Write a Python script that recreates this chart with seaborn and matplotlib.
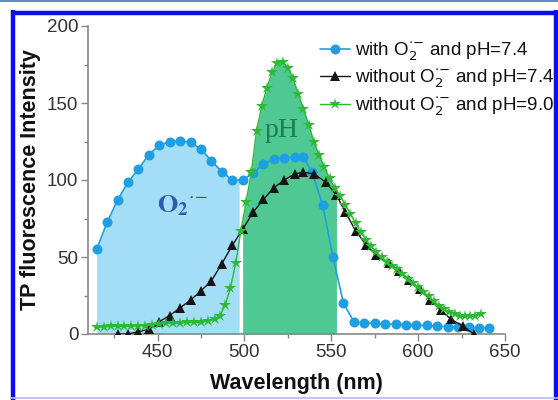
import numpy as np
import matplotlib.pyplot as plt
import seaborn as sns
from matplotlib.lines import Line2D
from matplotlib.ticker import MultipleLocator

# with O2- and pH 7.4 (circles)
blue_wl = [415, 421, 427, 433, 439, 445, 451, 457, 463, 469, 475, 481, 487, 493,
           499, 505, 511, 517, 523, 529, 534, 539, 545, 551, 557, 563, 569, 575,
           581, 587, 593, 599, 605, 611, 617, 623, 629, 635, 641]
blue_val = [55, 72.5, 87, 98.5, 107, 116.5, 122.5, 125, 125.5, 124.5, 120, 112.5, 105.5, 100,
            100, 104.5, 110.5, 113.5, 114.5, 114.7, 114.7, 105, 84, 50, 20, 8, 7.2, 6.9,
            6.3, 6.3, 6, 5.6, 5.6, 5, 4.8, 4.5, 4.3, 4, 3.7]

# without O2- and pH 7.4 (triangles)
black_wl = [427, 433, 439, 445, 451, 457, 463, 469, 475, 481, 487, 493, 499, 505,
            511, 517, 523, 529, 534, 540, 547, 553, 558, 564, 570, 576, 583, 589,
            595, 601, 607, 613, 619, 626, 632]
black_val = [0, 0, 1.5, 3, 8, 12, 17, 22, 28, 34.5, 45.5, 57.5, 68, 79,
             87.5, 95, 100, 104, 105, 104, 98.5, 90, 79.5, 67, 58, 51, 46, 41,
             35, 29, 22, 15.5, 9.5, 5, 0]

# without O2- and pH 9.0 (stars)
green_wl = [415, 419, 423, 427, 431, 435, 439, 443, 447, 451, 455, 459, 463, 467,
            471, 475, 479, 483, 486, 489, 492, 495, 498, 501, 504, 507, 510, 513,
            516, 519, 522, 525, 528, 531, 534, 537, 540, 543, 546, 549, 552, 555,
            558, 561, 564, 567, 570, 573, 576, 579, 582, 585, 588, 591, 594, 597,
            600, 603, 606, 609, 612, 615, 618, 621, 624, 627, 630, 633, 636]
green_val = [4.5, 4.5, 5, 5, 5, 5, 5.5, 5.5, 6, 6.5, 7, 7, 7, 7.5,
             7.5, 7.5, 8.5, 9.5, 12, 19, 30, 46, 67, 86, 105, 132, 148, 160,
             170, 176, 176.5, 173, 166, 156, 146, 136, 125, 116, 108.5, 101, 95, 89.5,
             84, 78, 72, 66, 61, 57, 53, 50, 47, 44, 42, 39, 36, 33,
             30.5, 27.5, 24.5, 21.5, 18.5, 16, 14, 13, 12, 11.5, 11.5, 12, 13]

labels = [r"with O$_2^{\cdot{-}}$ and pH=7.4",
          r"without O$_2^{\cdot{-}}$ and pH=7.4",
          r"without O$_2^{\cdot{-}}$ and pH=9.0"]

# shaded bands
o2_band = (415, 497)
ph_band = (499, 553)

sns.set_style("ticks")
plt.rcParams['font.family'] = ['Liberation Sans', 'DejaVu Sans']

fig = plt.figure(figsize=(5.58, 4.0), dpi=100)
ax = fig.add_axes([88 / 558, 66 / 400, 417 / 558, 308 / 400])

bw = np.array(blue_wl, dtype=float)
bv = np.array(blue_val, dtype=float)
xs = np.concatenate([[o2_band[0]], bw[(bw > o2_band[0]) & (bw < o2_band[1])], [o2_band[1]]])
ax.fill_between(xs, 0, np.interp(xs, bw, bv), color="#a3def6", lw=0, zorder=1)

gw = np.array(green_wl, dtype=float)
gv = np.array(green_val, dtype=float)
xs = np.concatenate([[ph_band[0]], gw[(gw > ph_band[0]) & (gw < ph_band[1])], [ph_band[1]]])
ax.fill_between(xs, 0, np.interp(xs, gw, gv), color="#4fc893", lw=0, zorder=1)

sns.lineplot(x=blue_wl, y=blue_val, ax=ax, color="#1e9fe4", marker="o", markersize=7.2,
             markeredgewidth=0, linewidth=1.2, label=labels[0], zorder=3)
sns.lineplot(x=black_wl, y=black_val, ax=ax, color="#151515", marker="^", markersize=7.5,
             markeredgewidth=0, linewidth=1.0, label=labels[1], zorder=3)
sns.lineplot(x=green_wl, y=green_val, ax=ax, color="#2cba34", marker="*", markersize=9,
             markeredgewidth=0, linewidth=1.0, label=labels[2], zorder=4)

ax.set_xlim(410, 650)
ax.set_ylim(0, 200)
ax.xaxis.set_major_locator(MultipleLocator(50))
ax.xaxis.set_minor_locator(MultipleLocator(25))
ax.yaxis.set_major_locator(MultipleLocator(50))
ax.yaxis.set_minor_locator(MultipleLocator(25))
ax.tick_params(which="major", length=5, width=1, color="#888888", labelsize=13.5,
               labelcolor="#333333", pad=2)
ax.tick_params(which="minor", length=3, width=1, color="#888888")
for s in ["top", "right"]:
    ax.spines[s].set_visible(False)
for s in ["left", "bottom"]:
    ax.spines[s].set_color("#888888")
    ax.spines[s].set_linewidth(1.2)

ax.set_xlabel("Wavelength (nm)", fontsize=15.5, fontweight="bold", color="#111111")
ax.set_ylabel("TP fluorescence Intensity", fontsize=15.5, fontweight="bold", color="#111111")
ax.xaxis.set_label_coords(0.5, -0.125)
ax.yaxis.set_label_coords(-0.112, 0.5)

ax.text(449.5, 79, r"$\mathbf{O_2}^{\cdot{-}}$", fontsize=19, color="#2a5db0",
        math_fontfamily="stix", ha="left", va="baseline", zorder=5)
ax.text(511.5, 128, "pH", fontsize=20, color="#1e7d4e", family="Liberation Serif",
        ha="left", va="baseline", zorder=5)

leg = ax.legend(loc="upper left", bbox_to_anchor=(320 / 558, 1 - 40 / 400),
                bbox_transform=fig.transFigure, frameon=False, fontsize=13.5,
                handlelength=1.6, handletextpad=0.25, labelspacing=0.25,
                borderpad=0, borderaxespad=0)
for t in leg.get_texts():
    t.set_color("#111111")

# blue page frame
fig.add_artist(Line2D([0, 1], [1 - 0.8 / 400] * 2, transform=fig.transFigure,
                      color="#3a78c8", lw=1.2))
frame = dict(transform=fig.transFigure, color="#0c0cf0", lw=3.2, solid_capstyle="butt")
fig.add_artist(Line2D([11 / 558, 1], [1 - 12.5 / 400] * 2, **frame))
fig.add_artist(Line2D([13 / 558] * 2, [0, 1 - 10 / 400], **frame))
fig.add_artist(Line2D([556 / 558] * 2, [0, 1 - 10 / 400], **frame))
fig.add_artist(Line2D([11 / 558, 1], [2.5 / 400] * 2, transform=fig.transFigure,
                      color="#b4bcf2", lw=1.2))

fig.savefig("out.png", dpi=100)
plt.close(fig)
